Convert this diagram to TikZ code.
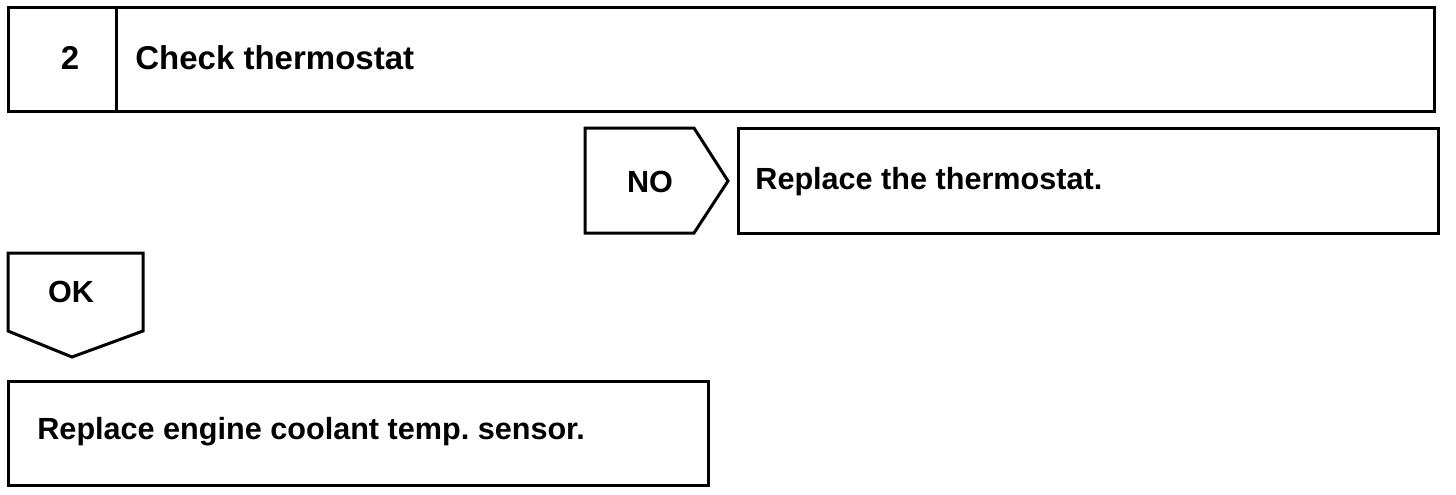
\documentclass[tikz,border=0pt]{standalone}
\usepackage{fontspec}
\setmainfont{Liberation Sans}
\usetikzlibrary{positioning}
\frenchspacing

\begin{document}
\begin{tikzpicture}[
    x=0.5pt, y=-0.5pt,
    outline/.style={draw, line width=1.5pt, line join=miter},
    label/.style={inner sep=0pt, font=\fontsize{16.5}{20}\selectfont\bfseries},
    small label/.style={inner sep=0pt, font=\fontsize{15.3}{18}\selectfont\bfseries},
  ]
  \useasboundingbox (0,0) rectangle (1456,494);

  % Step header
  \draw[outline] (8,7) rectangle (1434,111);
  \draw[outline] (116,7) -- (116,111);
  \node[label, anchor=base] (num) at (70,69) {2};
  \node[label, anchor=base west] (check) at (135,69) {Check thermostat};

  % NO branch
  \draw[outline] (585,128) -- (694,128) -- (728,181) -- (694,233) -- (585,233) -- cycle;
  \node[small label, anchor=base] (no) at (650,192) {NO};
  \draw[outline] (738,128) rectangle (1438,233);
  \node[small label, anchor=base west] (fixno) at (755,189) {Replace the thermostat.};

  % OK branch
  \draw[outline] (8,253) -- (143,253) -- (143,331) -- (72,357) -- (8,331) -- cycle;
  \node[small label, anchor=base] (ok) at (71,302) {OK};
  \draw[outline] (8,381) rectangle (708,485);
  \node[small label, anchor=base west] (fixok) at (37,439) {Replace engine coolant temp. sensor.};
\end{tikzpicture}
\end{document}
